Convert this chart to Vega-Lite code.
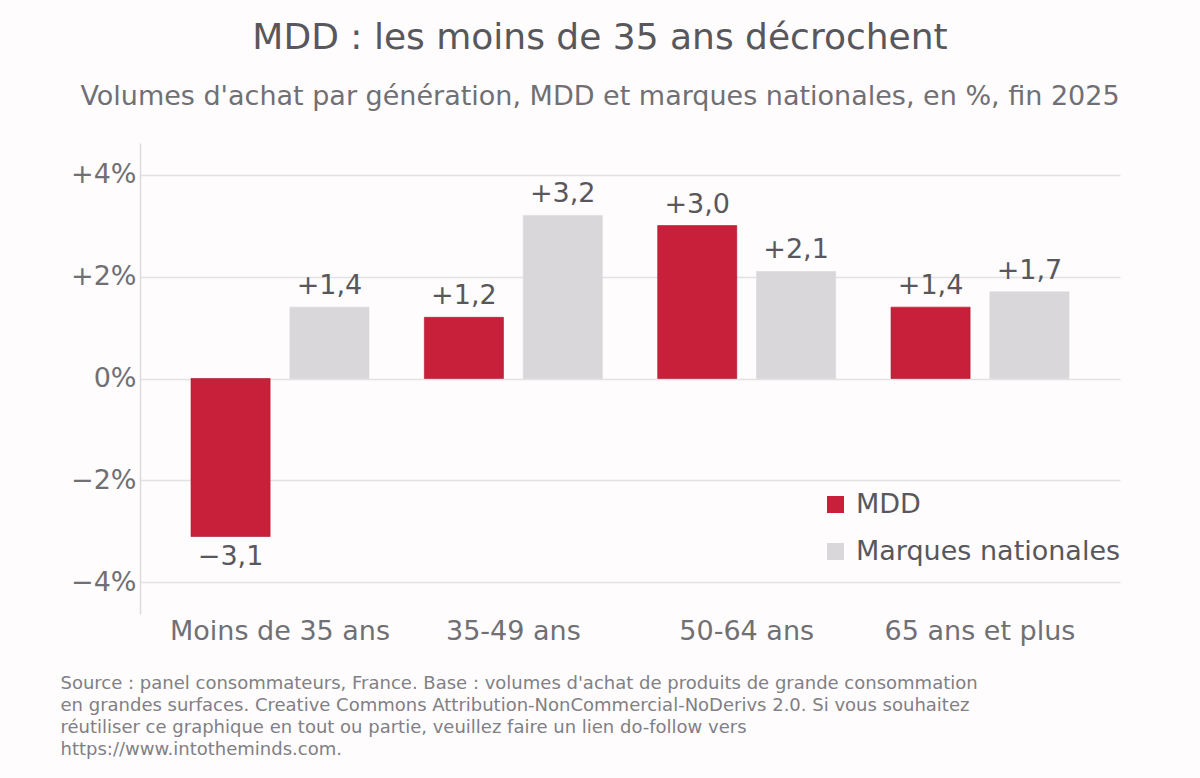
{
  "$schema": "https://vega.github.io/schema/vega-lite/v6.json",
  "width": 980,
  "height": 471,
  "autosize": {"type": "none"},
  "padding": {"left": 140, "top": 143, "right": 80, "bottom": 164},
  "background": "#fefcfd",
  "title": {
    "text": "MDD : les moins de 35 ans décrochent",
    "subtitle": "Volumes d'achat par génération, MDD et marques nationales, en %, fin 2025",
    "anchor": "middle",
    "dx": -30,
    "offset": 32,
    "fontSize": 36,
    "fontWeight": "normal",
    "color": "#58575c",
    "subtitleFontSize": 27,
    "subtitleColor": "#707074",
    "subtitlePadding": 27
  },
  "data": {
    "values": [
      {"age": "Moins de 35 ans", "type": "MDD", "value": -3.1},
      {"age": "Moins de 35 ans", "type": "Marques nationales", "value": 1.4},
      {"age": "35-49 ans", "type": "MDD", "value": 1.2},
      {"age": "35-49 ans", "type": "Marques nationales", "value": 3.2},
      {"age": "50-64 ans", "type": "MDD", "value": 3.0},
      {"age": "50-64 ans", "type": "Marques nationales", "value": 2.1},
      {"age": "65 ans et plus", "type": "MDD", "value": 1.4},
      {"age": "65 ans et plus", "type": "Marques nationales", "value": 1.7}
    ]
  },
  "encoding": {
    "x": {
      "field": "age",
      "type": "nominal",
      "sort": null,
      "scale": {"paddingInner": 0, "paddingOuter": 0.1},
      "axis": {
        "labelAngle": 0,
        "domain": false,
        "ticks": false,
        "grid": false,
        "labelPadding": 4,
        "labelFontSize": 27,
        "labelLimit": 400,
        "labelColor": "#707074",
        "title": [
          "Source : panel consommateurs, France. Base : volumes d'achat de produits de grande consommation",
          "en grandes surfaces. Creative Commons Attribution-NonCommercial-NoDerivs 2.0. Si vous souhaitez",
          "réutiliser ce graphique en tout ou partie, veuillez faire un lien do-follow vers",
          "https://www.intotheminds.com."
        ],
        "titleAnchor": "start",
        "titleAlign": "left",
        "titleBaseline": "top",
        "titleX": -80,
        "titleY": 60,
        "titleFontSize": 18,
        "titleFontWeight": "normal",
        "titleColor": "#808085",
        "titleLineHeight": 22
      }
    },
    "xOffset": {
      "field": "type",
      "type": "nominal",
      "sort": ["MDD", "Marques nationales"],
      "scale": {"paddingInner": 0.2, "paddingOuter": 0.28}
    },
    "y": {
      "field": "value",
      "type": "quantitative",
      "scale": {"domain": [-4.62, 4.62], "nice": false, "zero": true},
      "axis": {
        "values": [-4, -2, 0, 2, 4],
        "title": null,
        "ticks": false,
        "domain": true,
        "domainColor": "#dcdbdd",
        "domainWidth": 1.5,
        "gridColor": "#e2e1e3",
        "gridWidth": 1.5,
        "labelPadding": 4,
        "labelFontSize": 27,
        "labelColor": "#707074",
        "labelExpr": "datum.value == 0 ? '0%' : format(datum.value, '+d') + '%'"
      }
    }
  },
  "layer": [
    {
      "mark": {"type": "bar", "strokeWidth": 0.6},
      "encoding": {
        "color": {
          "field": "type",
          "type": "nominal",
          "sort": ["MDD", "Marques nationales"],
          "scale": {"domain": ["MDD", "Marques nationales"], "range": ["#c8203b", "#d9d7da"]},
          "legend": {
            "title": null,
            "orient": "none",
            "legendX": 682,
            "legendY": 348,
            "symbolType": "square",
            "symbolSize": 290,
            "symbolStrokeWidth": 0,
            "labelFontSize": 27,
            "labelLimit": 400,
            "labelColor": "#58575c",
            "labelOffset": 7,
            "rowPadding": 19
          }
        },
        "stroke": {
          "field": "type",
          "type": "nominal",
          "scale": {"domain": ["MDD", "Marques nationales"], "range": ["#a8182f", "#d9d7da"]},
          "legend": null
        }
      }
    },
    {
      "transform": [{"filter": "datum.value >= 0"}],
      "mark": {"type": "text", "baseline": "bottom", "dy": -7, "fontSize": 27, "color": "#58575c"},
      "encoding": {
        "text": {"field": "value", "type": "quantitative", "format": "+.1f"}
      }
    },
    {
      "transform": [{"filter": "datum.value < 0"}],
      "mark": {"type": "text", "baseline": "top", "dy": 7, "fontSize": 27, "color": "#58575c"},
      "encoding": {
        "text": {"field": "value", "type": "quantitative", "format": "+.1f"}
      }
    }
  ],
  "config": {
    "font": "DejaVu Sans",
    "view": {"stroke": null},
    "locale": {
      "number": {
        "decimal": ",",
        "thousands": " ",
        "grouping": [3],
        "currency": ["", " €"],
        "minus": "−"
      }
    }
  }
}
